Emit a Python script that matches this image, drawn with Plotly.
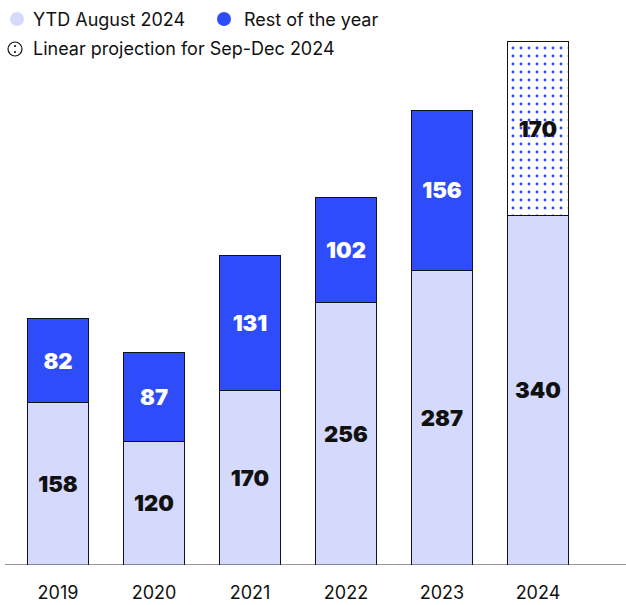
import plotly.graph_objects as go

years = ["2019", "2020", "2021", "2022", "2023", "2024"]
ytd_august = [158, 120, 170, 256, 287, 340]
rest_of_year = [82, 87, 131, 102, 156, None]
projection = [None, None, None, None, None, 170]

LIGHT = "#d5dafd"
BLUE = "#2f4cfb"
INK = "#111111"
FONT = "Inter"

x = list(range(len(years)))
x_range = [-0.552, 5.917]
bar_w = 0.635
outline = dict(color=INK, width=1)
label_font = dict(family=FONT, size=22, weight=900)

fig = go.Figure()

fig.add_trace(go.Bar(
    x=x, y=ytd_august, width=bar_w,
    marker=dict(color=LIGHT, line=outline),
    text=[str(v) for v in ytd_august],
    textposition="inside", insidetextanchor="middle", textangle=0,
    constraintext="none",
    textfont=dict(color=INK, **label_font),
    name="YTD August 2024", showlegend=False,
))

fig.add_trace(go.Bar(
    x=x, y=rest_of_year, width=bar_w,
    marker=dict(color=BLUE, line=outline),
    text=["" if v is None else str(v) for v in rest_of_year],
    textposition="inside", insidetextanchor="middle", textangle=0,
    constraintext="none",
    textfont=dict(color="white", **label_font),
    name="Rest of the year", showlegend=False,
))

fig.add_trace(go.Bar(
    x=x, y=projection, width=bar_w,
    marker=dict(
        color="white", line=outline,
        pattern=dict(shape=".", fgcolor=BLUE, bgcolor="white",
                     size=8, solidity=0.1, fillmode="replace"),
    ),
    text=["" if v is None else str(v) for v in projection],
    textposition="inside", insidetextanchor="middle", textangle=0,
    constraintext="none",
    textfont=dict(color=INK, **label_font),
    name="Linear projection for Sep-Dec 2024", showlegend=False,
))

# Baseline drawn across the whole x range
fig.add_trace(go.Scatter(
    x=x_range, y=[0, 0], mode="lines",
    line=dict(color="#333333", width=1.2),
    hoverinfo="skip", showlegend=False, cliponaxis=False,
))

W, H = 626, 605
ml, mr, mt, mb = 5, 0, 20, 40
pw, ph = W - ml - mr, H - mt - mb


def px_x(px):
    return (px - ml) / pw


def px_y(py):
    return 1 - (py - mt) / ph


shapes = []
annotations = []

# Legend: first row
legend_items = [
    (17, 19, LIGHT, "YTD August 2024", 31),
    (224, 19, BLUE, "Rest of the year", 242),
]
r = 7
for cx, cy, col, label, tx in legend_items:
    shapes.append(dict(type="circle", xref="paper", yref="paper",
                       x0=px_x(cx - r), x1=px_x(cx + r),
                       y0=px_y(cy + r), y1=px_y(cy - r),
                       fillcolor=col, line=dict(width=0)))
    annotations.append(dict(xref="paper", yref="paper", x=px_x(tx), y=px_y(cy),
                            xanchor="left", yanchor="middle", showarrow=False,
                            text=label, font=dict(family=FONT, size=18, color=INK)))

# Legend: projection item (outlined circle with dots)
cx, cy = 15, 49
r = 7
shapes.append(dict(type="circle", xref="paper", yref="paper",
                   x0=px_x(cx - r), x1=px_x(cx + r),
                   y0=px_y(cy + r), y1=px_y(cy - r),
                   fillcolor="white", line=dict(color=INK, width=1.2)))
for dy in (-3, 3):
    shapes.append(dict(type="circle", xref="paper", yref="paper",
                       x0=px_x(cx - 1.1), x1=px_x(cx + 1.1),
                       y0=px_y(cy + dy + 1.1), y1=px_y(cy + dy - 1.1),
                       fillcolor=INK, line=dict(width=0)))
annotations.append(dict(xref="paper", yref="paper", x=px_x(31), y=px_y(cy),
                        xanchor="left", yanchor="middle", showarrow=False,
                        text="Linear projection for Sep-Dec 2024",
                        font=dict(family=FONT, size=18, color=INK)))

fig.update_layout(
    width=W, height=H,
    margin=dict(l=ml, r=mr, t=mt, b=mb),
    barmode="stack",
    plot_bgcolor="white", paper_bgcolor="white",
    shapes=shapes, annotations=annotations,
    showlegend=False,
    xaxis=dict(
        range=x_range,
        tickmode="array", tickvals=x, ticktext=years,
        showgrid=False, zeroline=False, showline=False,
        ticks="", ticklen=0, ticklabelstandoff=15,
        tickfont=dict(family=FONT, size=18, color=INK),
    ),
    yaxis=dict(
        range=[0, 545 / 1.027],
        showticklabels=False, showgrid=False, zeroline=False, showline=False,
    ),
)

fig.write_html("out.html")
